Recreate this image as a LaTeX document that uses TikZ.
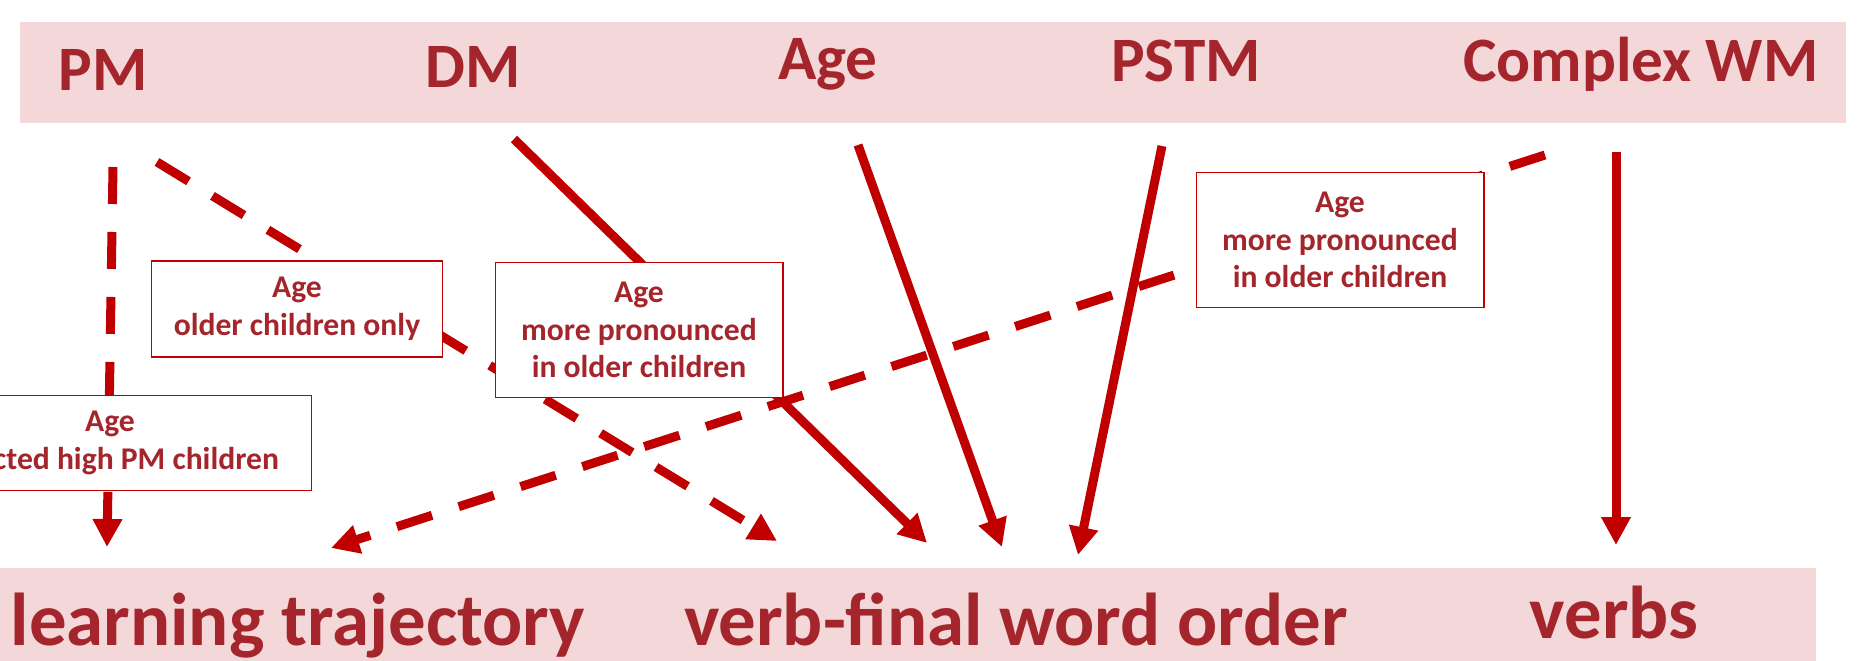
\documentclass[tikz,border=0pt]{standalone}
\usepackage{fontspec}
\setmainfont{Carlito}
\usetikzlibrary{arrows.meta}
\definecolor{darkred}{RGB}{164,38,44}
\definecolor{arrowred}{RGB}{192,0,0}
\definecolor{bandpink}{RGB}{244,215,216}
\tikzset{head node/.style={anchor=base,text=darkred,font=\bfseries\fontsize{36}{43}\selectfont,inner sep=0pt},
target node/.style={anchor=base,text=darkred,font=\bfseries\fontsize{42.6}{51}\selectfont,inner sep=0pt},
note node/.style={rectangle,draw=arrowred,line width=0.6pt,fill=white,text=darkred,font=\bfseries\fontsize{18}{21.5}\selectfont,align=center,inner sep=0pt,minimum width=5.76cm,minimum height=2.7cm},
link/.style={draw=arrowred,line width=0.18cm,-{Triangle[width=0.56cm,length=0.56cm]}},
dashed link/.style={link,dash pattern=on 0.74cm off 0.56cm}}

\begin{document}
\begin{tikzpicture}[x=0.02cm,y=-0.02cm]
            \useasboundingbox (0,0) rectangle (1874,660);
            % bands
            \fill[bandpink] (20,22) rectangle (1846,123);
            \fill[bandpink] (0,568) rectangle (1816,680);

            % predictors
            \node[head node] (PM) at (103,90) {PM};
            \node[head node] (DM) at (473,87) {DM};
            \node[head node] (Age) at (828,79) {Age};
            \node[head node] (PSTM) at (1186,81) {PSTM};
            \node[head node] (CWM) at (1641,81) {Complex WM};

            % outcomes
            \node[target node] (LT) at (298,645) {learning trajectory};
            \node[target node] (VF) at (1016,645) {verb-final word order};
            \node[target node] (V) at (1614,638) {verbs};

            \coordinate (pm out a) at (113,167);
            \coordinate (pm out b) at (157,162);
            \coordinate (dm out) at (514,139);
            \coordinate (age out) at (858,145);
            \coordinate (pstm out) at (1162,146);
            \coordinate (cwm out a) at (1545,155);
            \coordinate (cwm out b) at (1616,152);
            \coordinate (lt in a) at (107,547);
            \coordinate (lt in b) at (331,548);
            \coordinate (vf in a) at (777,541);
            \coordinate (vf in b) at (927,543);
            \coordinate (vf in c) at (1002,547);
            \coordinate (vf in d) at (1078,555);
            \coordinate (v in) at (1616,545);

            \path[dashed link] (pm out a) -- (lt in a);
            \path[dashed link] (pm out b) -- (vf in a);
            \path[link] (dm out) -- (vf in b);
            \path[link] (age out) -- (vf in c);
            \path[link] (pstm out) -- (vf in d);
            \path[dashed link] (cwm out a) -- (lt in b);
            \path[link] (cwm out b) -- (v in);

            % moderators
            \node[note node,minimum width=8.08cm,minimum height=1.9cm] (N1) at (110,443) {Age\\selected high PM children};
            \node[note node,minimum width=5.82cm,minimum height=1.92cm] (N2) at (297,309) {Age\\older children only};
            \node[note node] (N3) at (639,330) {Age\\more pronounced\\in older children};
            \node[note node] (N4) at (1340,240) {Age\\more pronounced\\in older children};
        \end{tikzpicture}
\end{document}
